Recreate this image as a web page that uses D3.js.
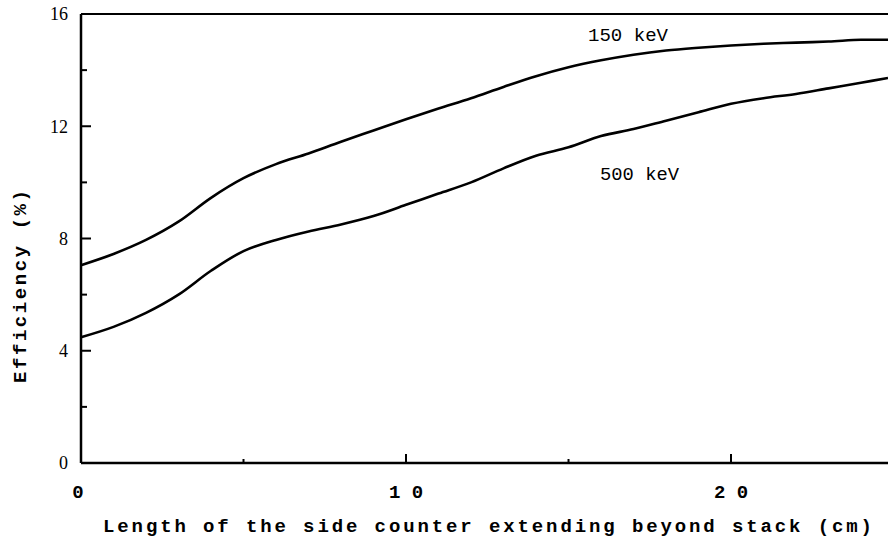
<!DOCTYPE html>
<html>
<head>
<meta charset="utf-8">
<script src="https://cdn.jsdelivr.net/npm/d3@7"></script>
<style>
  body { margin: 0; background: #fff; }
  svg { display: block; }
</style>
</head>
<body>
<div id="chart"></div>
<script>
// length of side counter beyond stack (cm)
const lengths = [0, 1, 2, 3, 4, 5, 6, 7, 8, 9, 10, 11, 12, 13, 14, 15, 16, 17, 18, 19, 20, 21, 22, 23, 24, 24.83];
// efficiency (%) for each energy
const eff150 = [7.05, 7.45, 7.95, 8.6, 9.45, 10.15, 10.65, 11.03, 11.45, 11.85, 12.25, 12.63, 13.0, 13.4, 13.78, 14.1, 14.35, 14.55, 14.7, 14.8, 14.88, 14.94, 14.98, 15.02, 15.08, 15.08];
const eff500 = [4.48, 4.85, 5.35, 6.0, 6.85, 7.55, 7.95, 8.25, 8.5, 8.8, 9.2, 9.6, 10.0, 10.5, 10.95, 11.25, 11.65, 11.9, 12.2, 12.5, 12.8, 13.0, 13.15, 13.35, 13.55, 13.72];
const seriesNames = ['150 keV', '500 keV'];
const yTicks = [0, 4, 8, 12, 16];
const yMinor = [2, 6, 10, 14];
const xTicks = [0, 10, 20];
const xTickLabels = ['0', '1 0', '2 0'];
const xMinor = [5, 15];

const W = 888, H = 541;
const margin = { top: 14, right: 0, bottom: 78, left: 81 };
const width = W - margin.left - margin.right,
  height = H - margin.top - margin.bottom;

const svg = d3.select('#chart').append('svg')
  .attr('width', W).attr('height', H);
const g = svg.append('g')
  .attr('transform', 'translate(' + margin.left + ',' + margin.top + ')');

const x = d3.scaleLinear().domain([0, 24.83]).range([0, width]);
const y = d3.scaleLinear().domain([0, 16]).range([height, 0]);

const mono = '"Liberation Mono", "Courier New", monospace';

// frame: left, bottom, top (right side is cut off)
g.append('line').attr('x1', 0).attr('x2', 0).attr('y1', 0).attr('y2', height)
  .attr('stroke', '#000').attr('stroke-width', 2.5);
g.append('line').attr('x1', 0).attr('x2', width).attr('y1', height).attr('y2', height)
  .attr('stroke', '#000').attr('stroke-width', 2.5);
g.append('line').attr('x1', 0).attr('x2', width).attr('y1', 0).attr('y2', 0)
  .attr('stroke', '#000').attr('stroke-width', 2);

// y ticks point inward
g.selectAll('.ymaj').data(yTicks.slice(1, -1)).enter().append('line')
  .attr('x1', 0).attr('x2', 10).attr('y1', d => y(d)).attr('y2', d => y(d))
  .attr('stroke', '#000').attr('stroke-width', 2);
g.selectAll('.ymin').data(yMinor).enter().append('line')
  .attr('x1', 0).attr('x2', 6).attr('y1', d => y(d)).attr('y2', d => y(d))
  .attr('stroke', '#000').attr('stroke-width', 2);
g.selectAll('.ylab').data(yTicks).enter().append('text')
  .attr('x', -13).attr('y', d => y(d)).attr('dy', '0.35em')
  .attr('text-anchor', 'end')
  .style('font-family', '"Liberation Serif", serif').style('font-size', '18px')
  .text(d => d);

// x ticks
g.selectAll('.xmaj').data(xTicks.slice(1)).enter().append('line')
  .attr('x1', d => x(d)).attr('x2', d => x(d)).attr('y1', height).attr('y2', height - 9)
  .attr('stroke', '#000').attr('stroke-width', 2);
g.selectAll('.xmin').data(xMinor).enter().append('line')
  .attr('x1', d => x(d)).attr('x2', d => x(d)).attr('y1', height).attr('y2', height - 4)
  .attr('stroke', '#000').attr('stroke-width', 2);
g.selectAll('.xlab').data(xTicks).enter().append('text')
  .attr('x', d => x(d) - (d === 0 ? 3 : 0)).attr('y', height + 35)
  .attr('text-anchor', 'middle')
  .style('font-family', mono).style('font-weight', 'bold')
  .style('font-size', '19px')
  .text((d, i) => xTickLabels[i]);

// curves
const line = d3.line()
  .x(d => x(d[0])).y(d => y(d[1]))
  .curve(d3.curveCatmullRom);
[eff150, eff500].forEach(vals => {
  g.append('path')
    .datum(lengths.map((l, i) => [l, vals[i]]))
    .attr('d', line)
    .attr('fill', 'none').attr('stroke', '#000').attr('stroke-width', 2.6);
});

// curve labels
g.append('text').attr('x', x(15.6)).attr('y', y(15.04))
  .attr('textLength', 80).attr('lengthAdjust', 'spacingAndGlyphs')
  .style('font-family', mono).style('font-size', '19px')
  .text(seriesNames[0]);
g.append('text').attr('x', x(15.97)).attr('y', y(10.09))
  .attr('textLength', 79).attr('lengthAdjust', 'spacingAndGlyphs')
  .style('font-family', mono).style('font-size', '19px')
  .text(seriesNames[1]);

// axis titles
svg.append('text').attr('x', 103).attr('y', 532)
  .attr('textLength', 769).attr('lengthAdjust', 'spacing')
  .style('font-family', mono).style('font-weight', 'bold')
  .style('font-size', '19px')
  .text('Length  of  the  side  counter  extending  beyond  stack  (cm)');
svg.append('text')
  .attr('transform', 'translate(26,383) rotate(-90)')
  .attr('textLength', 193).attr('lengthAdjust', 'spacing')
  .style('font-family', mono).style('font-weight', 'bold')
  .style('font-size', '19px')
  .text('Efficiency   (%)');
</script>
</body>
</html>
